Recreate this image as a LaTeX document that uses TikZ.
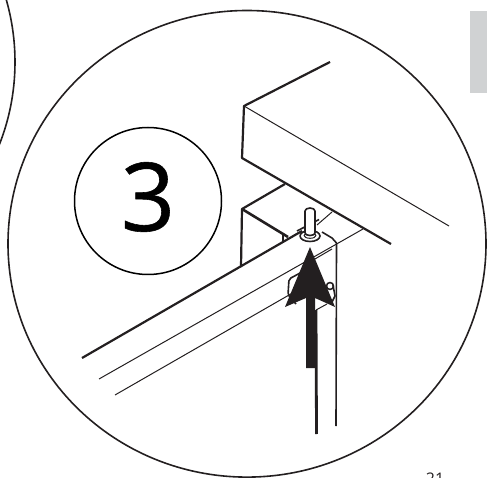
\documentclass[tikz,border=0pt]{standalone}
\usepackage{fontspec}
\setmainfont{Open Sans}
\definecolor{dkink}{RGB}{35,31,32}
\definecolor{tabgray}{RGB}{208,210,211}

\begin{document}
\begin{tikzpicture}[x=1pt,y=-1pt,line join=round,
    thinline/.style={dkink,line width=1pt},
    midline/.style={dkink,line width=1.6pt},
    heavyline/.style={dkink,line width=2.2pt}]
  \useasboundingbox (0,0) rectangle (487,478);
  \clip (0,0) rectangle (487,478);
  % tabletop
  \coordinate (A) at (244,106);
  \coordinate (B) at (330,62);
  \coordinate (C) at (242,158);
  \coordinate (D) at (449,226);
  \coordinate (E) at (391,244);
  % block under the top
  \coordinate (F) at (242,209);
  \coordinate (G) at (285,184);
  \coordinate (H) at (241,267);
  \coordinate (J) at (288,237);
  % rail
  \coordinate (K) at (82,358);
  \coordinate (L) at (302,231);
  \coordinate (M) at (99,379);
  \coordinate (N) at (363,229);
  \coordinate (P) at (115,395);
  \coordinate (Q) at (296,291);
  % post
  \coordinate (R) at (336,426);
  \coordinate (T) at (316.5,434);
  \coordinate (U) at (316,310);
  % tab, ring circles
  \fill[tabgray] (470,11) rectangle (487,93);
  \draw[midline] (-210,62) circle[radius=225];
  \draw[midline] (247,243.8) ellipse[x radius=239,y radius=233.3];
  \node[circle,draw=black,line width=1.5pt,minimum size=147pt,inner sep=0pt] (stepnum) at (148,201) {};
  \node[font=\fontsize{95}{95}\selectfont\addfontfeature{FakeBold=0.6}] (stepdigit) at (148,197) {3};
  % table and block
  \draw[heavyline] (B) -- (A) -- (C) -- (E);
  \draw[thinline] (A) -- (D);
  \draw[heavyline] (G) -- (F) -- (H);
  \draw[dkink,line width=2.6pt] (F) -- (J);
  \draw[midline] (283,235) -- (283,243);
  % rail lines
  \draw[heavyline] (K) -- (L);
  \draw[thinline] (M) -- (N);
  \draw[thinline] (P) -- (Q);
  \draw[thinline] (303,266) -- (332,249);
  % plate and post
  \draw[midline] (297,231) -- (319,219.5);
  \draw[thinline] (317,225) -- (332,212);
  \draw[midline] (322,232) -- (332,238) -- (336.5,243) -- (R);
  \draw[dkink,line width=2.8pt] (U) -- (T);
  \draw[thinline] (U) -- (327,304);
  % bracket
  \draw[midline,rounded corners=2pt] (302,272) -- (289,279) -- (288,295) -- (296,304);
  \draw[midline,fill=white] (330,286) circle[radius=3.5];
  \draw[midline] (333,285) -- (335,296) -- (331,304);
  % pin and washer
  \draw[midline,fill=white] (310,236) ellipse[x radius=10,y radius=5.5];
  \draw[thinline] (310,235.5) ellipse[x radius=6,y radius=2.8];
  \draw[midline,fill=white] (305,233) -- (305,211) arc[start angle=180,end angle=360,x radius=5,y radius=3] -- (315,233) arc[start angle=0,end angle=180,x radius=5,y radius=2.5];
  % arrow
  \fill[dkink] (310,247) -- (335,307) -- (315,298) -- (315,368) -- (306,368) -- (306,298) -- (285,307) -- cycle;
  % page number
  \node[anchor=base,font=\fontsize{16}{16}\selectfont,dkink] (pagenum) at (435,484) {21};
\end{tikzpicture}
\end{document}
